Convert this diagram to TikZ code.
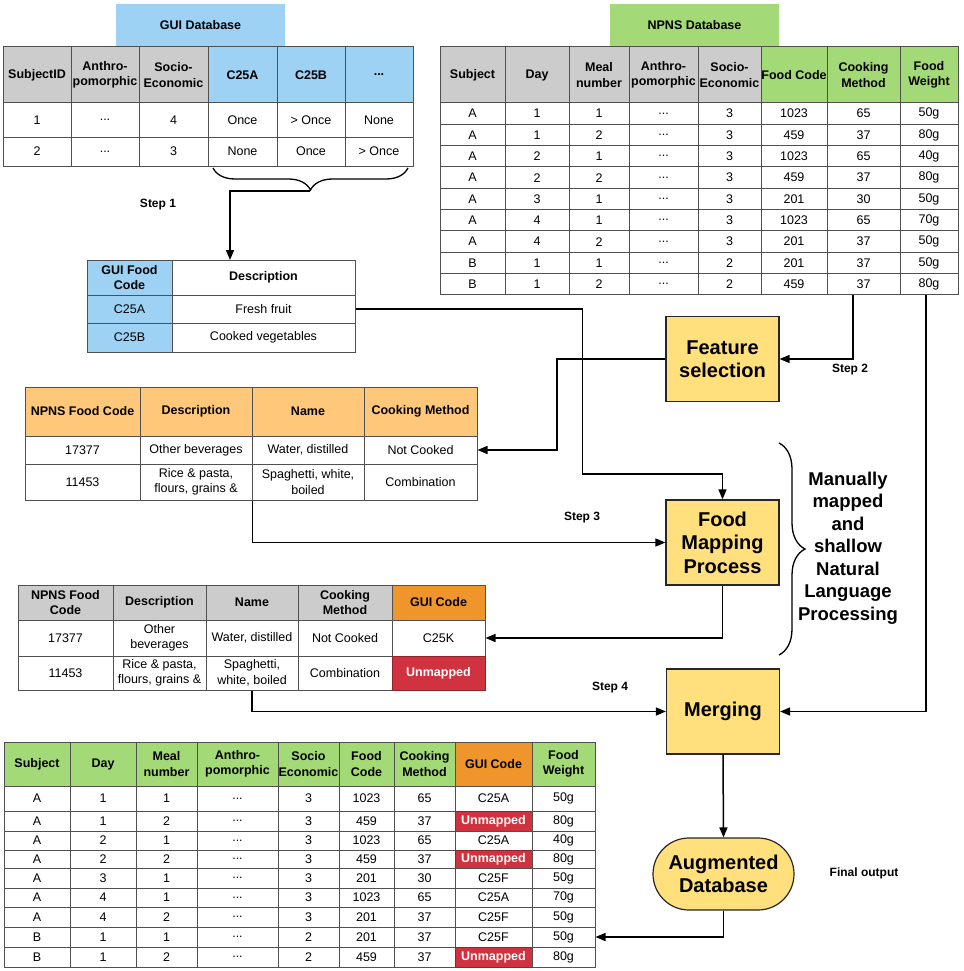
\documentclass[tikz,border=0pt]{standalone}
\usepackage{fontspec}
\setmainfont{Liberation Sans}
\usetikzlibrary{arrows.meta,decorations.pathreplacing,calc}

\definecolor{guiblue}{RGB}{157,210,245}
\definecolor{hdgray}{RGB}{204,204,204}
\definecolor{npgreen}{RGB}{163,217,119}
\definecolor{orlight}{RGB}{255,199,122}
\definecolor{ordark}{RGB}{240,149,44}
\definecolor{unmred}{RGB}{208,50,63}
\definecolor{procyel}{RGB}{255,224,124}
\definecolor{tline}{RGB}{80,80,80}

\newcommand{\tabfont}{\fontsize{12.5}{15.5}\selectfont}
\newcommand{\tdots}{...}
% celda: nombre, x1, x2, y1, y2, estilo, texto
\newcommand{\tcell}[7]{%
  \node[cell,#6,minimum width={(#3-#2)*1pt},minimum height={(#5-#4)*1pt}]
    (#1) at ({(#2+#3)/2},{(#4+#5)/2}) {#7};}

\tikzset{
  cell/.style={draw=tline,fill=white,line width=1pt,inner sep=0pt,align=center,font=\tabfont},
  hd/.style={font=\tabfont\bfseries},
  hgray/.style={hd,fill=hdgray},
  hblue/.style={hd,fill=guiblue},
  hgreen/.style={hd,fill=npgreen},
  horange/.style={hd,fill=orlight},
  hgui/.style={hd,fill=ordark},
  dblue/.style={fill=guiblue},
  unm/.style={fill=unmred,draw=unmred!70!black,text=white,font=\tabfont\bfseries},
  plain/.style={},
  dbtitle/.style={inner sep=0pt,minimum width=169pt,minimum height=42pt,font=\fontsize{12.5}{15}\selectfont\bfseries},
  proc/.style={draw=black!85,fill=procyel,line width=1.2pt,minimum width=113pt,minimum height=85pt,
    inner sep=0pt,align=center,font=\fontsize{20}{23.5}\selectfont\bfseries},
  conn/.style={line width=1.5pt,-{Triangle[length=10pt,width=8pt]}},
  steplbl/.style={font=\fontsize{12}{14}\selectfont\bfseries},
  brc/.style={decorate,decoration={brace,amplitude=#1},line width=1.3pt}
}

\begin{document}
\begin{tikzpicture}[x=1pt,y=-1pt]
  \useasboundingbox (0,0) rectangle (963,971);

  % GUI Database
  \node[dbtitle,fill=guiblue] (guititle) at (200.5,25) {GUI Database};
  \tcell{g-h1}{3}{71}{47}{103}{hgray}{SubjectID}
  \tcell{g-h2}{71}{139}{47}{103}{hgray}{Anthro-\\pomorphic}
  \tcell{g-h3}{139}{208}{47}{103}{hgray}{Socio-\\Economic}
  \tcell{g-h4}{208}{277}{47}{103}{hblue}{C25A}
  \tcell{g-h5}{277}{345}{47}{103}{hblue}{C25B}
  \tcell{g-h6}{345}{413}{47}{103}{hblue}{\tdots}
  \foreach \ya/\yb/\vA/\vB/\vC/\vD/\vE/\vF [count=\r] in
    {103/137/1/\tdots/4/Once/{> Once}/None, 137/166/2/\tdots/3/None/Once/{> Once}}{
    \tcell{g-\r-1}{3}{71}{\ya}{\yb}{}{\vA}
    \tcell{g-\r-2}{71}{139}{\ya}{\yb}{}{\vB}
    \tcell{g-\r-3}{139}{208}{\ya}{\yb}{}{\vC}
    \tcell{g-\r-4}{208}{277}{\ya}{\yb}{}{\vD}
    \tcell{g-\r-5}{277}{345}{\ya}{\yb}{}{\vE}
    \tcell{g-\r-6}{345}{413}{\ya}{\yb}{}{\vF}
  }
  \draw[brc=22pt] (408,168) -- (213,168);
  \coordinate (gtip) at (310,191);
  \node[steplbl] (step1) at (158,205) {Step 1};

  % GUI Food Code
  \tcell{c-h1}{87}{172}{260}{295}{hblue}{GUI Food\\Code}
  \tcell{c-h2}{172}{355}{260}{295}{hd}{Description}
  \tcell{c-1-1}{87}{172}{295}{323}{dblue}{C25A}
  \tcell{c-1-2}{172}{355}{295}{323}{}{Fresh fruit}
  \tcell{c-2-1}{87}{172}{323}{352}{dblue}{C25B}
  \tcell{c-2-2}{172}{355}{323}{352}{}{Cooked vegetables}
  \coordinate (s1in) at (230,260);

  % NPNS Database
  \node[dbtitle,fill=npgreen] (nptitle) at (694.5,25) {NPNS Database};
  \tcell{n-h1}{440}{505}{47}{103}{hgray}{Subject}
  \tcell{n-h2}{505}{569}{47}{103}{hgray}{Day}
  \tcell{n-h3}{569}{629}{47}{103}{hgray}{Meal\\number}
  \tcell{n-h4}{629}{698}{47}{103}{hgray}{Anthro-\\pomorphic}
  \tcell{n-h5}{698}{761}{47}{103}{hgray}{Socio-\\Economic}
  \tcell{n-h6}{761}{827}{47}{103}{hgreen}{Food Code}
  \tcell{n-h7}{827}{900}{47}{103}{hgreen}{Cooking\\Method}
  \tcell{n-h8}{900}{958}{47}{103}{hgreen}{Food\\Weight}
  \foreach \vA/\vB/\vC/\vD/\vE/\vF/\vG [count=\r] in
    {A/1/1/3/1023/65/50g, A/1/2/3/459/37/80g, A/2/1/3/1023/65/40g,
     A/2/2/3/459/37/80g, A/3/1/3/201/30/50g, A/4/1/3/1023/65/70g,
     A/4/2/3/201/37/50g, B/1/1/2/201/37/50g, B/1/2/2/459/37/80g}{
    \pgfmathsetmacro{\ya}{103+(\r-1)*21.33}
    \pgfmathsetmacro{\yb}{\ya+21.33}
    \tcell{n-\r-1}{440}{505}{\ya}{\yb}{}{\vA}
    \tcell{n-\r-2}{505}{569}{\ya}{\yb}{}{\vB}
    \tcell{n-\r-3}{569}{629}{\ya}{\yb}{}{\vC}
    \tcell{n-\r-4}{629}{698}{\ya}{\yb}{}{\tdots}
    \tcell{n-\r-5}{698}{761}{\ya}{\yb}{}{\vD}
    \tcell{n-\r-6}{761}{827}{\ya}{\yb}{}{\vE}
    \tcell{n-\r-7}{827}{900}{\ya}{\yb}{}{\vF}
    \tcell{n-\r-8}{900}{958}{\ya}{\yb}{}{\vG}
  }
  \coordinate (s2) at (853,295);
  \coordinate (s8) at (926,295);

  % Procesos
  \node[proc] (feat) at (722.5,359) {Feature\\selection};
  \node[proc] (fmap) at (722.5,542.5) {Food\\Mapping\\Process};
  \node[proc] (merge) at (723,711.5) {Merging};
  \node[proc,rounded corners=36pt,minimum width=141pt,minimum height=72pt] (augm) at (723.5,874) {Augmented\\Database};
  \node[steplbl] (step2) at (850,370) {Step 2};
  \node[steplbl] (step3) at (582,518) {Step 3};
  \node[steplbl] (step4) at (610,688) {Step 4};
  \node[steplbl] (final) at (864,873) {Final output};
  \draw[brc=26pt] (779,443) -- (779,655);
  \node[align=center,font=\fontsize{18.5}{22.5}\selectfont\bfseries] (nlp) at (848,548)
    {Manually\\mapped\\and\\shallow\\Natural\\Language\\Processing};

  % Tabla NPNS seleccionada
  \tcell{o-h1}{25}{140}{387}{436}{horange}{NPNS Food Code}
  \tcell{o-h2}{140}{252}{387}{436}{horange}{Description}
  \tcell{o-h3}{252}{364}{387}{436}{horange}{Name}
  \tcell{o-h4}{364}{477}{387}{436}{horange}{Cooking Method}
  \tcell{o-1-1}{25}{140}{436}{464}{}{17377}
  \tcell{o-1-2}{140}{252}{436}{464}{}{Other beverages}
  \tcell{o-1-3}{252}{364}{436}{464}{}{Water, distilled}
  \tcell{o-1-4}{364}{477}{436}{464}{}{Not Cooked}
  \tcell{o-2-1}{25}{140}{464}{500}{}{11453}
  \tcell{o-2-2}{140}{252}{464}{500}{}{Rice \& pasta,\\flours, grains \&}
  \tcell{o-2-3}{252}{364}{464}{500}{}{Spaghetti, white,\\boiled}
  \tcell{o-2-4}{364}{477}{464}{500}{}{Combination}

  % Tabla mapeada
  \tcell{m-h1}{18}{113}{585}{620}{hgray}{NPNS Food\\Code}
  \tcell{m-h2}{113}{206}{585}{620}{hgray}{Description}
  \tcell{m-h3}{206}{298}{585}{620}{hgray}{Name}
  \tcell{m-h4}{298}{392}{585}{620}{hgray}{Cooking\\Method}
  \tcell{m-h5}{392}{485}{585}{620}{hgui}{GUI Code}
  \tcell{m-1-1}{18}{113}{620}{656}{}{17377}
  \tcell{m-1-2}{113}{206}{620}{656}{}{Other\\beverages}
  \tcell{m-1-3}{206}{298}{620}{656}{}{Water, distilled}
  \tcell{m-1-4}{298}{392}{620}{656}{}{Not Cooked}
  \tcell{m-1-5}{392}{485}{620}{656}{}{C25K}
  \tcell{m-2-1}{18}{113}{656}{690}{}{11453}
  \tcell{m-2-2}{113}{206}{656}{690}{}{Rice \& pasta,\\flours, grains \&}
  \tcell{m-2-3}{206}{298}{656}{690}{}{Spaghetti,\\white, boiled}
  \tcell{m-2-4}{298}{392}{656}{690}{}{Combination}
  \tcell{m-2-5}{392}{485}{656}{690}{unm}{Unmapped}

  % Base de datos aumentada
  \tcell{f-h1}{4}{70}{742}{786}{hgreen}{Subject}
  \tcell{f-h2}{70}{136}{742}{786}{hgreen}{Day}
  \tcell{f-h3}{136}{197}{742}{786}{hgreen}{Meal\\number}
  \tcell{f-h4}{197}{278}{742}{786}{hgreen}{Anthro-\\pomorphic}
  \tcell{f-h5}{278}{339}{742}{786}{hgreen}{Socio\\Economic}
  \tcell{f-h6}{339}{394}{742}{786}{hgreen}{Food\\Code}
  \tcell{f-h7}{394}{455}{742}{786}{hgreen}{Cooking\\Method}
  \tcell{f-h8}{455}{532}{742}{786}{hgui}{GUI Code}
  \tcell{f-h9}{532}{595}{742}{786}{hgreen}{Food\\Weight}
  \foreach \ya/\yb/\vA/\vB/\vC/\vD/\vE/\vF/\vG/\vH/\gs [count=\r] in
    {786/811/A/1/1/3/1023/65/C25A/50g/plain, 811/831/A/1/2/3/459/37/Unmapped/80g/unm,
     831/850/A/2/1/3/1023/65/C25A/40g/plain, 850/868/A/2/2/3/459/37/Unmapped/80g/unm,
     868/888/A/3/1/3/201/30/C25F/50g/plain, 888/907/A/4/1/3/1023/65/C25A/70g/plain,
     907/927/A/4/2/3/201/37/C25F/50g/plain, 927/947/B/1/1/2/201/37/C25F/50g/plain,
     947/967/B/1/2/2/459/37/Unmapped/80g/unm}{
    \tcell{f-\r-1}{4}{70}{\ya}{\yb}{}{\vA}
    \tcell{f-\r-2}{70}{136}{\ya}{\yb}{}{\vB}
    \tcell{f-\r-3}{136}{197}{\ya}{\yb}{}{\vC}
    \tcell{f-\r-4}{197}{278}{\ya}{\yb}{}{\tdots}
    \tcell{f-\r-5}{278}{339}{\ya}{\yb}{}{\vD}
    \tcell{f-\r-6}{339}{394}{\ya}{\yb}{}{\vE}
    \tcell{f-\r-7}{394}{455}{\ya}{\yb}{}{\vF}
    \tcell{f-\r-8}{455}{532}{\ya}{\yb}{\gs}{\vG}
    \tcell{f-\r-9}{532}{595}{\ya}{\yb}{}{\vH}
  }

  % Conectores
  \draw[conn] (gtip) -| (s1in);
  \draw[conn] (c-1-2.east) -| ++(227,165) -| (fmap.north);
  \draw[conn] (s2) |- (feat.east);
  \draw[conn] (feat.west) -- ++(-108.5,0) |- (o-1-4.east);
  \draw[conn] (o-2-2.south east) |- (fmap.west);
  \draw[conn] (fmap.south) |- (m-1-5.east);
  \draw[conn] (m-2-3.south) |- (merge.west);
  \draw[conn] (s8) |- (merge.east);
  \draw[conn] (merge.south) -- (augm.north);
  \draw[conn] (augm.south) |- (f-8-9.east);
\end{tikzpicture}
\end{document}
